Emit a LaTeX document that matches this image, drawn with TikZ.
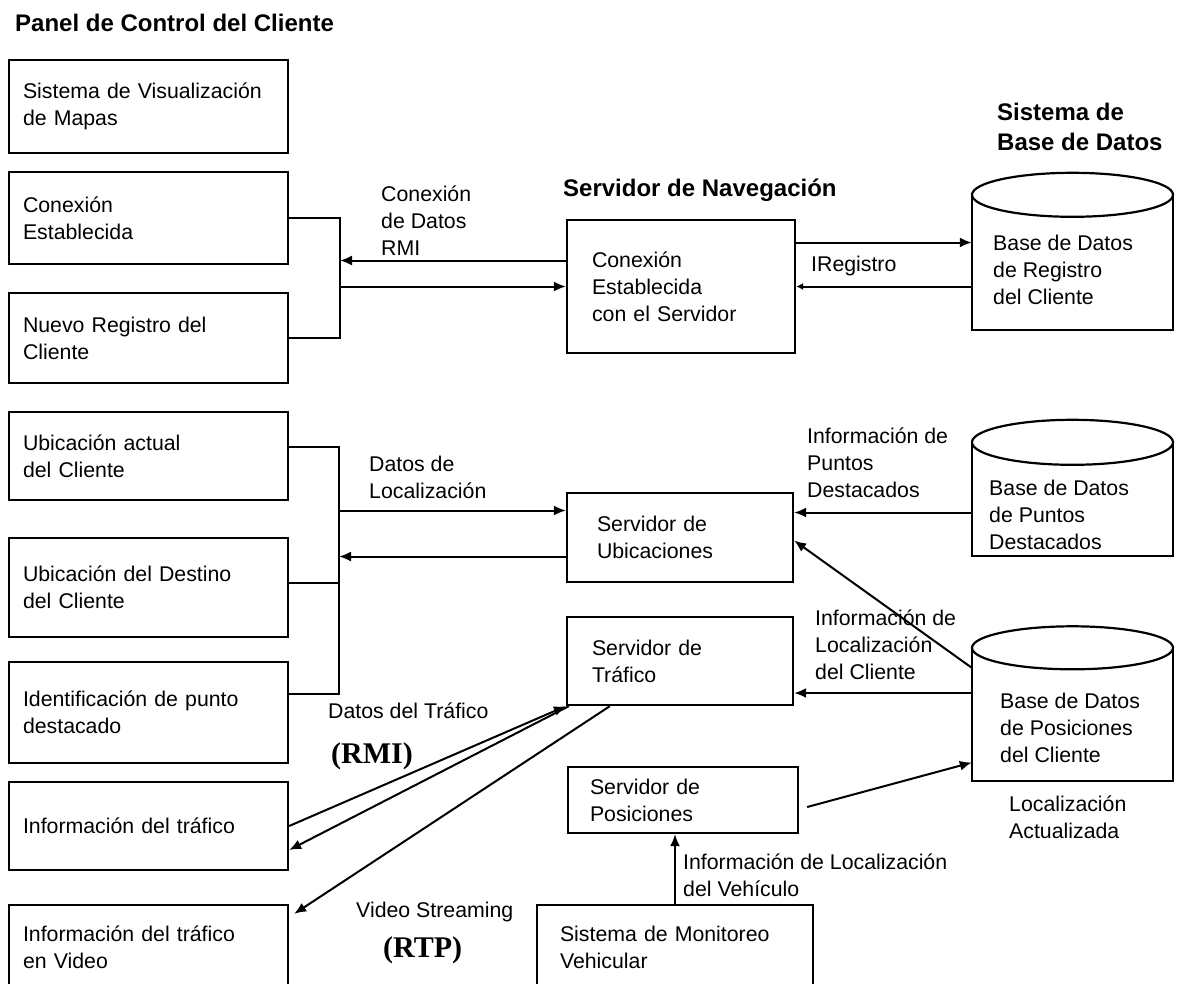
\documentclass[tikz,border=0pt]{standalone}
\usepackage{fontspec}
\setmainfont{Liberation Sans}
\newfontfamily\rmserif{Liberation Serif}
\usetikzlibrary{arrows.meta}
\newcommand\txtsize{\fontsize{21.3}{27}\selectfont}
\newcommand\ttlsize{\fontsize{24}{30}\selectfont\bfseries}
\newcommand\protosize{\rmserif\bfseries\fontsize{30}{32}\selectfont}
\begin{document}
\begin{tikzpicture}[x=1pt,y=-1pt,
  box/.style={draw, line width=2.3pt, inner ysep=0pt, align=left, font=\txtsize, anchor=center},
  lbox/.style={box, minimum width=279pt, inner xsep=14pt, text width=251pt},
  lbl/.style={inner sep=0pt, align=left, anchor=west, font=\txtsize},
  ttl/.style={inner sep=0pt, align=left, anchor=west, font=\ttlsize},
  proto/.style={inner sep=0pt, anchor=west, font=\protosize},
  ln/.style={line width=2pt},
  arr/.style={line width=2pt, -{Latex[length=12pt,width=10pt]}},
  dbline/.style={line width=2.2pt},
  dbbody/.style={inner sep=0pt, draw=none},
]
\useasboundingbox (0,0) rectangle (1182,983);

% ---- titles
\node[ttl] (t1) at (15,23) {Panel de Control del Cliente};
\node[ttl] (t2) at (563,190) {Servidor de Navegación};
\node[ttl] (t3) at (997,127) {Sistema de\\Base de Datos};

% ---- left column
\node[lbox, minimum height=93pt] (b1) at (148.5,106.5) {Sistema de Visualización\\de Mapas};
\node[lbox, minimum height=92pt] (b2) at (148.5,218) {Conexión\\Establecida};
\node[lbox, minimum height=90pt] (b3) at (148.5,338) {Nuevo Registro del\\Cliente};
\node[lbox, minimum height=88pt] (b4) at (148.5,456) {Ubicación actual\\del Cliente};
\node[lbox, minimum height=99pt] (b5) at (148.5,587.5) {Ubicación del Destino\\del Cliente};
\node[lbox, minimum height=101pt] (b6) at (148.5,712.5) {Identificación de punto\\destacado};
\node[lbox, minimum height=88pt] (b7) at (148.5,826) {Información del tráfico};
\node[lbox, minimum height=85pt] (b8) at (148.5,947.5) {Información del tráfico\\en Video};

% ---- servers
\node[box, minimum width=228pt, inner xsep=25pt, text width=178pt, minimum height=133pt] (nav) at (681,286.5) {Conexión\\Establecida\\con el Servidor};
\node[box, minimum width=226pt, inner xsep=30pt, text width=166pt, minimum height=89pt] (ubic) at (680,537.5) {Servidor de\\Ubicaciones};
\node[box, minimum width=226pt, inner xsep=25pt, text width=176pt, minimum height=88pt] (traf) at (680,661) {Servidor de\\Tráfico};
\node[box, minimum width=230pt, inner xsep=22pt, text width=186pt, minimum height=66pt] (pos) at (683,800) {Servidor de\\Posiciones};
\node[box, minimum width=276pt, inner xsep=23pt, text width=230pt, minimum height=85pt] (mon) at (675,947.5) {Sistema de Monitoreo\\Vehicular};

% ---- databases
\node[dbbody, minimum width=201pt, minimum height=135pt] (db1) at (1072.5,262.5) {};
\draw[dbline] (db1.north west) -- (db1.south west) -- (db1.south east) -- (db1.north east);
\draw[dbline] (db1.north) ellipse [x radius=100.5pt, y radius=22pt];
\node[lbl] (db1t) at (993,270) {Base de Datos\\de Registro\\del Cliente};

\node[dbbody, minimum width=201pt, minimum height=113.5pt] (db2) at (1072.5,499.25) {};
\draw[dbline] (db2.north west) -- (db2.south west) -- (db2.south east) -- (db2.north east);
\draw[dbline] (db2.north) ellipse [x radius=100.5pt, y radius=22.5pt];
\node[lbl] (db2t) at (989,515) {Base de Datos\\de Puntos\\Destacados};

\node[dbbody, minimum width=201pt, minimum height=133pt] (db3) at (1072.5,714.5) {};
\draw[dbline] (db3.north west) -- (db3.south west) -- (db3.south east) -- (db3.north east);
\draw[dbline] (db3.north) ellipse [x radius=100.5pt, y radius=21.5pt];
\node[lbl] (db3t) at (1000,728) {Base de Datos\\de Posiciones\\del Cliente};

% ---- connector labels
\node[lbl] (lrmi) at (381,221) {Conexión\\de Datos\\RMI};
\node[lbl] (lreg) at (811,266) {IRegistro};
\node[lbl] (lloc) at (369,477) {Datos de\\Localización};
\node[lbl] (lpun) at (807,463) {Información de\\Puntos\\Destacados};
\node[lbl] (lcli) at (815,645) {Información de\\Localización\\del Cliente};
\node[lbl] (lact) at (1009,817) {Localización\\Actualizada};
\node[lbl] (lveh) at (683,875.5) {Información de Localización\\del Vehículo};
\node[lbl] (ltra) at (328,711) {Datos del Tráfico};
\node[proto] (lrmi2) at (331,756) {(RMI)};
\node[lbl] (lvid) at (356,912) {Video Streaming};
\node[proto] (lrtp) at (383,950) {(RTP)};

% ---- upper bracket + RMI connection
\coordinate (bk1) at (340,0);
\draw[ln] (b2.east) -| (bk1 |- b3.east) -- (b3.east);
\draw[arr] ([yshift=26pt]nav.west) -- ([yshift=26pt]nav.west -| bk1);
\draw[arr] (nav.west -| bk1) -- (nav.west);

% ---- navigation <-> registry DB
\draw[arr] ([yshift=44pt]nav.east) -- ([yshift=44pt]nav.east -| db1.west);
\draw[line width=2pt, -{Latex[length=7pt,width=7pt]}] (nav.east -| db1.west) -- (nav.east);

% ---- lower bracket + location data
\coordinate (bk2) at (339,0);
\coordinate (c4) at ([yshift=9pt]b4.east);
\coordinate (c5) at ([yshift=5pt]b5.east);
\coordinate (c6) at ([yshift=19pt]b6.east);
\draw[ln] (c4) -| (bk2 |- c6) -- (c6);
\draw[ln] (c5) -- (c5 -| bk2);
\draw[arr] ([yshift=27pt]ubic.west -| bk2) -- ([yshift=27pt]ubic.west);
\draw[arr] ([yshift=-19pt]ubic.west) -- ([yshift=-19pt]ubic.west -| bk2);

% ---- DBs -> servers
\draw[arr] ([yshift=25pt]ubic.east -| db2.west) -- ([yshift=25pt]ubic.east);
\draw[arr] ([yshift=-20pt]db3.north west) -- ([yshift=-3pt]ubic.east);
\draw[arr] ([yshift=-32pt]traf.east -| db3.west) -- ([yshift=-32pt]traf.east);
\draw[arr] ([xshift=8pt,yshift=-7pt]pos.east) -- ([yshift=-48pt]db3.west);
\draw[arr] (mon.north) -- (mon.north |- pos.south);

% ---- traffic connections
\draw[arr] (b7.east) -- (traf.south west);
\draw[arr] ([xshift=3pt]traf.south west) -- ([yshift=-24pt]b7.east);
\draw[arr] ([xshift=44pt]traf.south west) -- ([xshift=5pt,yshift=-10pt]b8.north east);
\end{tikzpicture}
\end{document}
